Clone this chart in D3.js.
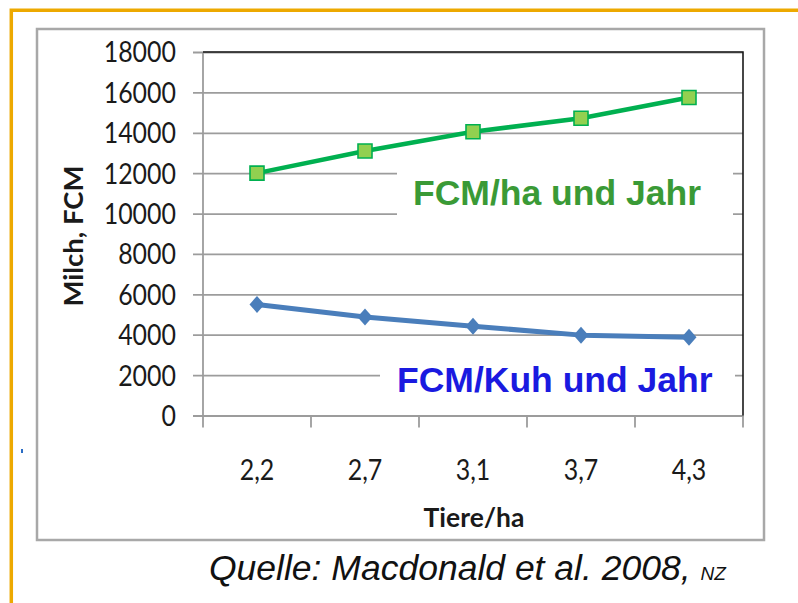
<!DOCTYPE html>
<html>
<head>
<meta charset="utf-8">
<script src="https://cdn.jsdelivr.net/npm/d3@7"></script>
<style>
  html, body { margin: 0; padding: 0; background: #fff; }
  svg { display: block; }
</style>
</head>
<body>
<svg id="chart" width="798" height="603"></svg>
<script>
// ---- data ----
const categories = ["2,2", "2,7", "3,1", "3,7", "4,3"];
const fcmPerHa = [12000, 13100, 14050, 14720, 15750];
const fcmPerCow = [5500, 4880, 4420, 3980, 3880];
const yTicks = [0, 2000, 4000, 6000, 8000, 10000, 12000, 14000, 16000, 18000];
const seriesLabels = ["FCM/ha und Jahr", "FCM/Kuh und Jahr"];
const yTitle = "Milch, FCM";
const xTitle = "Tiere/ha";
const sourceText = "Quelle: Macdonald et al. 2008, ";
const sourceSmall = "NZ";

// ---- layout ----
const svg = d3.select("#chart");
const plot = { left: 203, right: 743, top: 52, bottom: 415.5 };

const x = d3.scaleBand().domain(categories).range([plot.left, plot.right]).padding(0);
const y = d3.scaleLinear().domain([0, 18000]).range([plot.bottom, plot.top]);

// orange slide border
svg.append("path")
  .attr("d", "M11.3,603 V10.3 H798")
  .attr("fill", "none").attr("stroke", "#EDA900").attr("stroke-width", 3.5);

// grey chart frame
svg.append("rect")
  .attr("x", 37).attr("y", 29).attr("width", 727).attr("height", 511)
  .attr("fill", "#fff").attr("stroke", "#a8a8a8").attr("stroke-width", 2.5);

// stray blue mark
svg.append("rect").attr("x", 21).attr("y", 449).attr("width", 2).attr("height", 4).attr("fill", "#2a6cc4");

// gridlines + y axis ticks
const yAxis = d3.axisLeft(y).tickValues(yTicks).tickSize(-(plot.right - plot.left)).tickSizeOuter(0).tickFormat("");
const gy = svg.append("g").attr("transform", `translate(${plot.left},0)`).call(yAxis);
gy.select(".domain").remove();
gy.selectAll(".tick line")
  .attr("x1", -10)
  .attr("stroke", "#9c9c9c").attr("stroke-width", 1.8);

// y tick labels (condensed)
svg.append("g").selectAll("text").data(yTicks).join("text")
  .attr("transform", d => `translate(176,${y(d)}) scale(0.86,1)`)
  .attr("text-anchor", "end").attr("dy", "0.36em")
  .attr("font-family", "Lato, 'Open Sans', sans-serif").attr("font-size", 29)
  .attr("fill", "#1a1a1a")
  .text(d => d);

// y axis line
svg.append("line")
  .attr("x1", plot.left).attr("x2", plot.left).attr("y1", plot.top).attr("y2", plot.bottom)
  .attr("stroke", "#9c9c9c").attr("stroke-width", 1.8);

// x axis
const xAxis = d3.axisBottom(x).tickSize(0).tickFormat("");
const gx = svg.append("g").attr("transform", `translate(0,${plot.bottom})`).call(xAxis);
gx.select(".domain").attr("stroke", "#9c9c9c").attr("stroke-width", 1.8);
gx.selectAll(".tick").remove();
const boundaries = categories.map(c => x(c)).concat([x(categories[categories.length - 1]) + x.bandwidth()]);
gx.selectAll("line.sep").data(boundaries).join("line").attr("class", "sep")
  .attr("x1", d => d).attr("x2", d => d).attr("y1", 0).attr("y2", 12)
  .attr("stroke", "#9c9c9c").attr("stroke-width", 1.8);

// x tick labels
svg.append("g").selectAll("text").data(categories).join("text")
  .attr("transform", d => `translate(${x(d) + x.bandwidth() / 2},480) scale(0.86,1)`)
  .attr("text-anchor", "middle")
  .attr("font-family", "Lato, 'Open Sans', sans-serif").attr("font-size", 29)
  .attr("fill", "#1a1a1a")
  .text(d => d);

// black plot border top/right
svg.append("path")
  .attr("d", `M${plot.left},${y(18000)} H${plot.right} V${plot.bottom}`)
  .attr("fill", "none").attr("stroke", "#1a1a1a").attr("stroke-width", 1.6);

// axis titles
svg.append("text")
  .attr("transform", "translate(83,236) rotate(-90)")
  .attr("text-anchor", "middle")
  .attr("font-family", "Lato, 'Open Sans', sans-serif").attr("font-weight", "bold").attr("font-size", 27.5)
  .attr("fill", "#1a1a1a")
  .text(yTitle);

svg.append("text")
  .attr("transform", "translate(474,527) scale(0.98,1)")
  .attr("text-anchor", "middle")
  .attr("font-family", "Lato, 'Open Sans', sans-serif").attr("font-weight", "bold").attr("font-size", 27)
  .attr("fill", "#1a1a1a")
  .text(xTitle);

// label boxes (white, hide gridlines)
svg.append("rect").attr("x", 397).attr("y", 156).attr("width", 336).attr("height", 68).attr("fill", "#fff");
svg.append("rect").attr("x", 380).attr("y", 345).attr("width", 355).attr("height", 60).attr("fill", "#fff");

// lines
const line = d3.line().x((d, i) => x(categories[i]) + x.bandwidth() / 2).y(d => y(d));

svg.append("path").datum(fcmPerCow).attr("d", line)
  .attr("fill", "none").attr("stroke", "#4a7ebb").attr("stroke-width", 5).attr("stroke-linejoin", "round");

const diamond = {
  draw(ctx, size) {
    const w = 7.5, h = 8.5;
    ctx.moveTo(0, -h); ctx.lineTo(w, 0); ctx.lineTo(0, h); ctx.lineTo(-w, 0); ctx.closePath();
  }
};
svg.append("g").selectAll("path").data(fcmPerCow).join("path")
  .attr("transform", (d, i) => `translate(${x(categories[i]) + x.bandwidth() / 2},${y(d)})`)
  .attr("d", d3.symbol().type(diamond).size(100))
  .attr("fill", "#4a7ebb");

svg.append("path").datum(fcmPerHa).attr("d", line)
  .attr("fill", "none").attr("stroke", "#00b050").attr("stroke-width", 4.5).attr("stroke-linejoin", "round");

svg.append("g").selectAll("path").data(fcmPerHa).join("path")
  .attr("transform", (d, i) => `translate(${x(categories[i]) + x.bandwidth() / 2},${y(d)})`)
  .attr("d", d3.symbol().type(d3.symbolSquare).size(196))
  .attr("fill", "#92d050").attr("stroke", "#00b050").attr("stroke-width", 1.6);

// series labels
svg.append("text")
  .attr("x", 413).attr("y", 205)
  .attr("font-family", "'Liberation Sans', Arial, sans-serif").attr("font-weight", "bold").attr("font-size", 35.5)
  .attr("fill", "#3a9a36")
  .text(seriesLabels[0]);

svg.append("text")
  .attr("x", 397).attr("y", 392)
  .attr("font-family", "'Liberation Sans', Arial, sans-serif").attr("font-weight", "bold").attr("font-size", 35.5)
  .attr("fill", "#1a1ae0")
  .text(seriesLabels[1]);

// source
const src = svg.append("text")
  .attr("x", 209).attr("y", 580)
  .attr("font-family", "'Liberation Sans', Arial, sans-serif").attr("font-style", "italic").attr("font-size", 35.5)
  .attr("fill", "#111");
src.append("tspan").text(sourceText);
src.append("tspan").attr("font-size", 19).text(sourceSmall);
</script>
</body>
</html>
